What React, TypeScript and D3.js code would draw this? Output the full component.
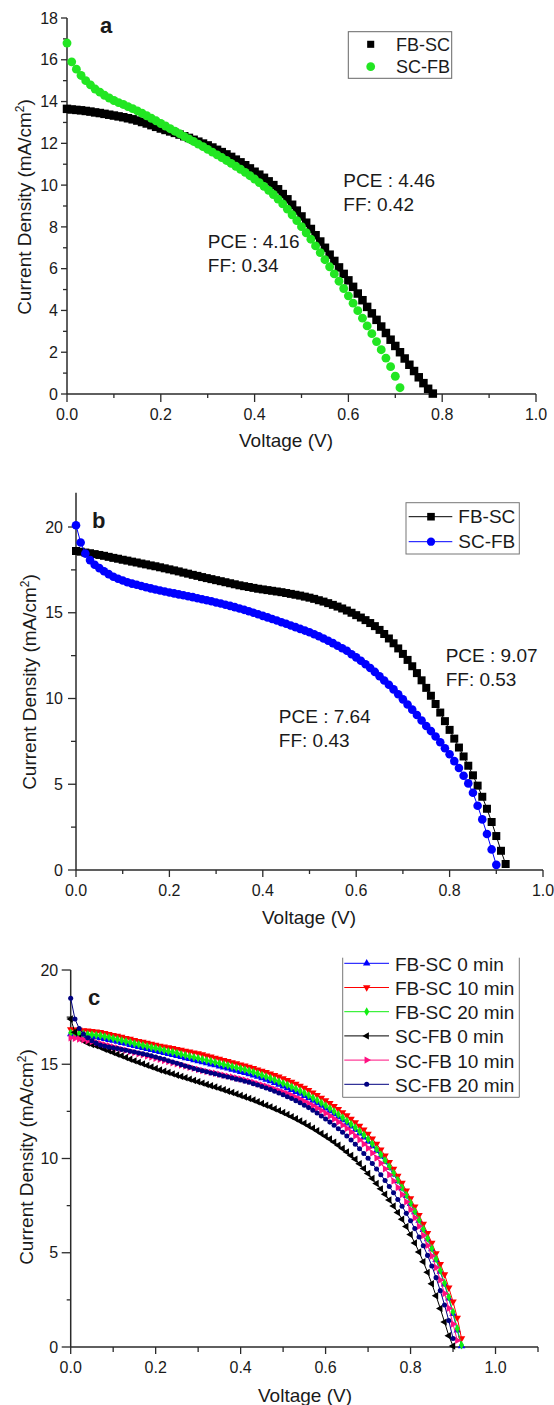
import React from 'react';
import * as d3 from 'd3';

// Voltage sweep step (V) shared by every J–V scan below; index i <-> V = i * SWEEP_STEP
const SWEEP_STEP = 0.01;

// ---------- Panel a (mA/cm2), V = 0 .. 0.78 ----------
const aFbSc = [13.65, 13.62, 13.6, 13.58, 13.55, 13.52, 13.48, 13.45, 13.41, 13.37,
  13.33, 13.29, 13.25, 13.2, 13.15, 13.09, 13.02, 12.95, 12.87, 12.79,
  12.71, 12.64, 12.57, 12.5, 12.42, 12.34, 12.26, 12.17, 12.08, 11.99,
  11.9, 11.8, 11.69, 11.58, 11.47, 11.35, 11.22, 11.09, 10.95, 10.8,
  10.64, 10.5, 10.35, 10.18, 10.0, 9.8, 9.57, 9.32, 9.06, 8.78,
  8.5, 8.2, 7.9, 7.6, 7.3, 7.0, 6.67, 6.37, 6.06, 5.75,
  5.44, 5.13, 4.81, 4.49, 4.17, 3.86, 3.55, 3.23, 2.92, 2.6,
  2.3, 2.0, 1.7, 1.4, 1.1, 0.8, 0.52, 0.25, 0.02];
// V = 0 .. 0.71
const aScFb = [16.8, 15.9, 15.55, 15.25, 15.0, 14.8, 14.6, 14.45, 14.3, 14.17,
  14.05, 13.95, 13.86, 13.76, 13.66, 13.55, 13.44, 13.32, 13.2, 13.08,
  12.95, 12.83, 12.7, 12.58, 12.46, 12.33, 12.21, 12.09, 11.96, 11.84,
  11.71, 11.58, 11.45, 11.32, 11.18, 11.04, 10.9, 10.76, 10.61, 10.45,
  10.29, 10.12, 9.94, 9.75, 9.55, 9.33, 9.1, 8.85, 8.58, 8.3,
  8.01, 7.72, 7.41, 7.09, 6.77, 6.43, 6.09, 5.75, 5.4, 5.05,
  4.7, 4.35, 3.99, 3.63, 3.26, 2.89, 2.51, 2.12, 1.72, 1.31,
  0.85, 0.3];

// ---------- Panel b, V = 0 .. 0.92 ----------
const bFbSc = [18.6, 18.56, 18.51, 18.47, 18.42, 18.37, 18.32, 18.26, 18.2, 18.15,
  18.09, 18.04, 17.98, 17.93, 17.87, 17.82, 17.76, 17.71, 17.65, 17.59,
  17.53, 17.47, 17.41, 17.34, 17.28, 17.21, 17.15, 17.08, 17.02, 16.96,
  16.9, 16.84, 16.78, 16.72, 16.66, 16.6, 16.55, 16.5, 16.45, 16.4,
  16.36, 16.32, 16.28, 16.24, 16.2, 16.15, 16.1, 16.05, 16.0, 15.94,
  15.88, 15.81, 15.73, 15.65, 15.56, 15.46, 15.36, 15.25, 15.13, 15.0,
  14.86, 14.72, 14.57, 14.4, 14.22, 14.0, 13.76, 13.5, 13.22, 12.92,
  12.6, 12.25, 11.88, 11.48, 11.06, 10.62, 10.16, 9.68, 9.18, 8.68,
  8.17, 7.66, 7.14, 6.62, 6.08, 5.52, 4.92, 4.27, 3.57, 2.8,
  1.98, 1.12, 0.35];
// V = 0 .. 0.90
const bScFb = [20.1, 19.1, 18.45, 18.07, 17.8, 17.6, 17.42, 17.25, 17.1, 16.98,
  16.88, 16.78, 16.7, 16.63, 16.56, 16.49, 16.42, 16.36, 16.3, 16.24,
  16.18, 16.13, 16.07, 16.02, 15.96, 15.91, 15.85, 15.79, 15.73, 15.67,
  15.6, 15.54, 15.47, 15.4, 15.33, 15.25, 15.17, 15.09, 15.0, 14.91,
  14.82, 14.73, 14.64, 14.55, 14.45, 14.36, 14.26, 14.16, 14.06, 13.96,
  13.86, 13.75, 13.63, 13.5, 13.37, 13.23, 13.08, 12.93, 12.78, 12.58,
  12.4, 12.2, 12.0, 11.78, 11.55, 11.3, 11.05, 10.8, 10.53, 10.25,
  9.95, 9.65, 9.35, 9.04, 8.72, 8.4, 8.1, 7.78, 7.45, 7.1,
  6.75, 6.35, 5.95, 5.5, 5.05, 4.5, 3.75, 2.95, 2.1, 1.2,
  0.3];

// ---------- Panel c ----------
// FB-SC 0 min, V = 0 .. 0.92
const cFbSc0 = [16.6, 16.57, 16.55, 16.52, 16.5, 16.47, 16.44, 16.4, 16.35, 16.3,
  16.25, 16.2, 16.14, 16.09, 16.03, 15.98, 15.92, 15.87, 15.82, 15.76,
  15.71, 15.66, 15.6, 15.55, 15.5, 15.44, 15.39, 15.33, 15.28, 15.22,
  15.17, 15.11, 15.06, 15.0, 14.95, 14.89, 14.84, 14.78, 14.72, 14.66,
  14.6, 14.54, 14.48, 14.41, 14.34, 14.26, 14.18, 14.1, 14.01, 13.92,
  13.83, 13.74, 13.64, 13.54, 13.44, 13.32, 13.2, 13.07, 12.94, 12.8,
  12.66, 12.51, 12.36, 12.2, 12.04, 11.87, 11.7, 11.52, 11.33, 11.12,
  10.9, 10.66, 10.4, 10.12, 9.82, 9.5, 9.16, 8.8, 8.42, 8.02,
  7.6, 7.16, 6.7, 6.22, 5.72, 5.19, 4.62, 4.0, 3.32, 2.58,
  1.76, 0.88, 0.05];
// FB-SC 10 min, V = 0 .. 0.92
const cFbSc10 = [16.85, 16.84, 16.82, 16.8, 16.78, 16.76, 16.73, 16.7, 16.65, 16.6,
  16.55, 16.5, 16.45, 16.39, 16.34, 16.28, 16.23, 16.18, 16.13, 16.08,
  16.03, 15.98, 15.93, 15.89, 15.85, 15.8, 15.76, 15.71, 15.67, 15.62,
  15.57, 15.52, 15.46, 15.4, 15.34, 15.28, 15.22, 15.16, 15.1, 15.04,
  14.98, 14.92, 14.86, 14.79, 14.72, 14.65, 14.58, 14.5, 14.42, 14.34,
  14.25, 14.16, 14.06, 13.96, 13.85, 13.74, 13.62, 13.49, 13.36, 13.22,
  13.08, 12.93, 12.78, 12.62, 12.45, 12.28, 12.1, 11.92, 11.73, 11.53,
  11.31, 11.05, 10.77, 10.47, 10.15, 9.81, 9.45, 9.08, 8.7, 8.3,
  7.88, 7.45, 7.0, 6.53, 6.04, 5.52, 4.97, 4.4, 3.85, 3.15,
  2.4, 1.55, 0.45];
// FB-SC 20 min, V = 0 .. 0.92
const cFbSc20 = [16.67, 16.65, 16.63, 16.61, 16.59, 16.57, 16.55, 16.52, 16.47, 16.42,
  16.37, 16.32, 16.26, 16.21, 16.16, 16.1, 16.05, 16.0, 15.95, 15.9,
  15.85, 15.8, 15.74, 15.69, 15.64, 15.59, 15.53, 15.48, 15.42, 15.37,
  15.32, 15.27, 15.21, 15.16, 15.1, 15.05, 14.99, 14.94, 14.88, 14.82,
  14.77, 14.71, 14.65, 14.58, 14.5, 14.42, 14.34, 14.26, 14.17, 14.08,
  13.99, 13.9, 13.8, 13.7, 13.59, 13.47, 13.35, 13.22, 13.09, 12.95,
  12.81, 12.66, 12.5, 12.34, 12.17, 12.0, 11.82, 11.64, 11.45, 11.25,
  11.03, 10.78, 10.5, 10.21, 9.9, 9.57, 9.22, 8.85, 8.46, 8.06,
  7.64, 7.2, 6.74, 6.26, 5.76, 5.23, 4.67, 4.06, 3.39, 2.66,
  1.86, 0.98, 0.1];
// SC-FB 0 min, V = 0 .. 0.90
const cScFb0 = [17.4, 16.7, 16.4, 16.25, 16.13, 16.05, 15.98, 15.9, 15.8, 15.71,
  15.62, 15.53, 15.45, 15.36, 15.27, 15.18, 15.1, 15.02, 14.94, 14.86,
  14.78, 14.7, 14.63, 14.56, 14.49, 14.42, 14.35, 14.28, 14.21, 14.14,
  14.07, 14.0, 13.93, 13.86, 13.79, 13.72, 13.65, 13.57, 13.5, 13.42,
  13.34, 13.26, 13.18, 13.1, 13.01, 12.92, 12.83, 12.74, 12.64, 12.54,
  12.44, 12.33, 12.22, 12.11, 11.99, 11.87, 11.74, 11.61, 11.47, 11.33,
  11.18, 11.03, 10.87, 10.7, 10.53, 10.35, 10.16, 9.96, 9.72, 9.47,
  9.2, 8.94, 8.67, 8.39, 8.1, 7.8, 7.48, 7.14, 6.78, 6.39,
  5.97, 5.52, 5.04, 4.52, 3.96, 3.36, 2.72, 2.04, 1.32, 0.6,
  0.05];
// SC-FB 10 min, V = 0 .. 0.91
const cScFb10 = [16.4, 16.38, 16.34, 16.3, 16.25, 16.2, 16.15, 16.1, 16.04, 15.98,
  15.92, 15.86, 15.8, 15.74, 15.68, 15.62, 15.56, 15.5, 15.44, 15.38,
  15.32, 15.26, 15.2, 15.14, 15.08, 15.02, 14.96, 14.9, 14.84, 14.78,
  14.72, 14.67, 14.62, 14.57, 14.52, 14.47, 14.42, 14.37, 14.32, 14.27,
  14.22, 14.16, 14.1, 14.04, 13.97, 13.9, 13.83, 13.76, 13.68, 13.6,
  13.52, 13.43, 13.34, 13.24, 13.14, 13.03, 12.92, 12.8, 12.67, 12.54,
  12.4, 12.25, 12.1, 11.94, 11.77, 11.59, 11.4, 11.2, 10.99, 10.77,
  10.54, 10.29, 10.03, 9.75, 9.45, 9.14, 8.81, 8.46, 8.09, 7.7,
  7.29, 6.86, 6.4, 5.91, 5.39, 4.83, 4.22, 3.56, 2.84, 2.06,
  1.22, 0.35];
// SC-FB 20 min, V = 0 .. 0.90
const cScFb20 = [18.5, 17.4, 16.9, 16.6, 16.4, 16.25, 16.12, 16.02, 15.97, 15.92,
  15.88, 15.83, 15.78, 15.74, 15.69, 15.65, 15.6, 15.55, 15.5, 15.45,
  15.39, 15.32, 15.26, 15.19, 15.12, 15.05, 14.98, 14.91, 14.84, 14.77,
  14.71, 14.65, 14.6, 14.54, 14.49, 14.43, 14.38, 14.32, 14.27, 14.21,
  14.16, 14.1, 14.04, 13.97, 13.9, 13.82, 13.74, 13.66, 13.57, 13.48,
  13.38, 13.28, 13.18, 13.07, 12.96, 12.83, 12.7, 12.56, 12.41, 12.26,
  12.1, 11.93, 11.76, 11.58, 11.39, 11.19, 10.98, 10.76, 10.52, 10.27,
  10.01, 9.73, 9.44, 9.14, 8.83, 8.51, 8.18, 7.83, 7.47, 7.09,
  6.7, 6.28, 5.84, 5.37, 4.86, 4.3, 3.68, 2.99, 2.23, 1.4,
  0.45];

// ---------- ticks & labels ----------
const xMajorAB = [0, 0.2, 0.4, 0.6, 0.8, 1.0];
const xMinorAB = [0.1, 0.3, 0.5, 0.7, 0.9];
const xMajorC = [0, 0.2, 0.4, 0.6, 0.8, 1.0];
const xMinorC = [0.1, 0.3, 0.5, 0.7, 0.9, 1.1];
const yMajorA = [0, 2, 4, 6, 8, 10, 12, 14, 16, 18];
const yMinorA = [1, 3, 5, 7, 9, 11, 13, 15, 17];
const yMajorB = [0, 5, 10, 15, 20];
const yMinorB = [2.5, 7.5, 12.5, 17.5];
const yMajorC = [0, 5, 10, 15, 20];
const yMinorC = [2.5, 7.5, 12.5, 17.5];

const legendA = ['FB-SC', 'SC-FB'];
const legendB = ['FB-SC', 'SC-FB'];
const legendC = ['FB-SC 0 min', 'FB-SC 10 min', 'FB-SC 20 min', 'SC-FB 0 min', 'SC-FB 10 min', 'SC-FB 20 min'];
const notesA = [['PCE : 4.46', 'FF: 0.42'], ['PCE : 4.16', 'FF: 0.34']];
const notesB = [['PCE : 9.07', 'FF: 0.53'], ['PCE : 7.64', 'FF: 0.43']];

const FONT = "'Liberation Sans', Arial, Helvetica, sans-serif";
const AX = '#2a2a2a';
const TXT = '#1a1a1a';

const SYM: Record<string, d3.SymbolType> = {
  square: d3.symbolSquare,
  circle: d3.symbolCircle,
  triangle: d3.symbolTriangle,
  diamond: d3.symbolDiamond,
};

type Series = { values: number[]; color: string; shape: string; size: number; rot?: number; line?: boolean };

function toPoints(values: number[]) {
  return values.map((j, i) => ({ v: i * SWEEP_STEP, j }));
}

function Marker({ shape, size, rot, x, y, fill }: any) {
  const d = d3.symbol(SYM[shape], size)() as string;
  return <path d={d} transform={`translate(${x},${y}) rotate(${rot || 0})`} fill={fill} />;
}

function SeriesMarks({ s, x, y }: { s: Series; x: any; y: any }) {
  const pts = toPoints(s.values);
  const line = d3.line<{ v: number; j: number }>().x(p => x(p.v)).y(p => y(p.j));
  return (
    <g>
      {s.line && <path d={line(pts) as string} fill="none" stroke={s.color} strokeWidth={1} />}
      {pts.map((p, i) => (
        <Marker key={i} shape={s.shape} size={s.size} rot={s.rot} x={x(p.v)} y={y(p.j)} fill={s.color} />
      ))}
    </g>
  );
}

function Axes(props: any) {
  const { x, y, xMajor, xMinor, yMajor, yMinor, xTick, xMinTick, yTick, yMinTick, yLabelGap } = props;
  const [x0, x1] = x.range();
  const [y0, y1] = y.range();
  const fx = d3.format('.1f');
  return (
    <g fontFamily={FONT} fill={TXT}>
      <line x1={x0} x2={x1} y1={y0} y2={y0} stroke={AX} strokeWidth={1.5} />
      <line x1={x0} x2={x0} y1={y0} y2={y1} stroke={AX} strokeWidth={1.5} />
      {xMajor.map((v: number) => (
        <g key={'xm' + v}>
          <line x1={x(v)} x2={x(v)} y1={y0} y2={y0 + xTick} stroke={AX} strokeWidth={1.3} />
          <text x={x(v)} y={y0 + 26} fontSize={16} textAnchor="middle">{fx(v)}</text>
        </g>
      ))}
      {xMinor.map((v: number) => (
        <line key={'xn' + v} x1={x(v)} x2={x(v)} y1={y0} y2={y0 + xMinTick} stroke={AX} strokeWidth={1.3} />
      ))}
      {yMajor.map((v: number) => (
        <g key={'ym' + v}>
          <line x1={x0 - yTick} x2={x0} y1={y(v)} y2={y(v)} stroke={AX} strokeWidth={1.3} />
          <text x={x0 - yLabelGap} y={y(v) + 5.7} fontSize={16} textAnchor="end">{v}</text>
        </g>
      ))}
      {yMinor.map((v: number) => (
        <line key={'yn' + v} x1={x0 - yMinTick} x2={x0} y1={y(v)} y2={y(v)} stroke={AX} strokeWidth={1.3} />
      ))}
    </g>
  );
}

function YTitle({ x, y }: { x: number; y: number }) {
  return (
    <text transform={`translate(${x},${y}) rotate(-90)`} textAnchor="middle" fontFamily={FONT} fontSize={19} fill={TXT}>
      Current Density (mA/cm<tspan dy={-7} fontSize={12}>2</tspan><tspan dy={7}>)</tspan>
    </text>
  );
}

function XTitle({ x, y }: { x: number; y: number }) {
  return (
    <text x={x} y={y} textAnchor="middle" fontFamily={FONT} fontSize={19} fill={TXT}>Voltage (V)</text>
  );
}

function Note({ x, y, lines }: { x: number; y: number; lines: string[] }) {
  return (
    <g fontFamily={FONT} fontSize={19} fill={TXT}>
      {lines.map((t, i) => (
        <text key={i} x={x} y={y + i * 24}>{t}</text>
      ))}
    </g>
  );
}

export default function App() {
  // panel a
  const xa = d3.scaleLinear().domain([0, 1.0]).range([67, 536]);
  const ya = d3.scaleLinear().domain([0, 18]).range([394, 18]);
  // panel b
  const xb = d3.scaleLinear().domain([0, 1.0]).range([76, 543]);
  const yb = d3.scaleLinear().domain([0, 22]).range([870, 492.7]);
  // panel c
  const xc = d3.scaleLinear().domain([0, 1.1]).range([70.7, 538]);
  const yc = d3.scaleLinear().domain([0, 20]).range([1347, 970]);

  const seriesA: Series[] = [
    { values: aFbSc, color: '#000000', shape: 'square', size: 72 },
    { values: aScFb, color: '#22e622', shape: 'circle', size: 62 },
  ];
  const seriesB: Series[] = [
    { values: bFbSc, color: '#000000', shape: 'square', size: 64, line: true },
    { values: bScFb, color: '#0000ff', shape: 'circle', size: 58, line: true },
  ];
  const seriesC: Series[] = [
    { values: cFbSc0, color: '#0000ff', shape: 'triangle', size: 24, rot: 0, line: true },
    { values: cFbSc10, color: '#ff0000', shape: 'triangle', size: 24, rot: 180, line: true },
    { values: cFbSc20, color: '#11ee11', shape: 'diamond', size: 22, line: true },
    { values: cScFb0, color: '#000000', shape: 'triangle', size: 24, rot: -90, line: true },
    { values: cScFb10, color: '#ff1080', shape: 'triangle', size: 24, rot: 90, line: true },
    { values: cScFb20, color: '#000080', shape: 'circle', size: 20, line: true },
  ];

  return (
    <svg width={554} height={1405} style={{ position: 'absolute', left: 0, top: 0, background: '#fff' }}>
      <rect x={0} y={0} width={554} height={1405} fill="#ffffff" />

      {/* ---------- Panel a ---------- */}
      <Axes x={xa} y={ya} xMajor={xMajorAB} xMinor={xMinorAB} yMajor={yMajorA} yMinor={yMinorA}
        xTick={8} xMinTick={4} yTick={6} yMinTick={4} yLabelGap={9} />
      {seriesA.map((s, i) => <SeriesMarks key={i} s={s} x={xa} y={ya} />)}
      <text x={100} y={33} fontFamily={FONT} fontSize={22} fontWeight="bold" fill={TXT}>a</text>
      <g>
        <rect x={348.3} y={31.7} width={103.4} height={46.6} fill="#fff" stroke="#666" strokeWidth={1} />
        <Marker shape="square" size={50} x={370.7} y={44.3} fill="#000" />
        <Marker shape="circle" size={60} x={370.7} y={66.7} fill="#22e622" />
        {legendA.map((t, i) => (
          <text key={t} x={396} y={51 + i * 22} fontFamily={FONT} fontSize={18} fill={TXT}>{t}</text>
        ))}
      </g>
      <Note x={343.3} y={187} lines={notesA[0]} />
      <Note x={207.8} y={248} lines={notesA[1]} />
      <YTitle x={31} y={207} />
      <XTitle x={286} y={447} />

      {/* ---------- Panel b ---------- */}
      <Axes x={xb} y={yb} xMajor={xMajorAB} xMinor={xMinorAB} yMajor={yMajorB} yMinor={yMinorB}
        xTick={7} xMinTick={4} yTick={8} yMinTick={5} yLabelGap={13} />
      {seriesB.map((s, i) => <SeriesMarks key={i} s={s} x={xb} y={yb} />)}
      <text x={92} y={528} fontFamily={FONT} fontSize={22} fontWeight="bold" fill={TXT}>b</text>
      <g>
        <rect x={406} y={502.7} width={113.3} height={51.3} fill="#fff" stroke="#777" strokeWidth={1} />
        <line x1={408.7} x2={452.3} y1={516.7} y2={516.7} stroke="#000" strokeWidth={1} />
        <Marker shape="square" size={58} x={431} y={516.7} fill="#000" />
        <line x1={408.7} x2={452.3} y1={541.7} y2={541.7} stroke="#0000ff" strokeWidth={1} />
        <Marker shape="circle" size={54} x={431} y={541.7} fill="#0000ff" />
        {legendB.map((t, i) => (
          <text key={t} x={458.3} y={523 + i * 25} fontFamily={FONT} fontSize={19} fill={TXT}>{t}</text>
        ))}
      </g>
      <Note x={445.7} y={662} lines={notesB[0]} />
      <Note x={278.8} y={723} lines={notesB[1]} />
      <YTitle x={36} y={682} />
      <XTitle x={309} y={924} />

      {/* ---------- Panel c ---------- */}
      <Axes x={xc} y={yc} xMajor={xMajorC} xMinor={xMinorC} yMajor={yMajorC} yMinor={yMinorC}
        xTick={7} xMinTick={5} yTick={9} yMinTick={4} yLabelGap={12.5} />
      {seriesC.map((s, i) => <SeriesMarks key={i} s={s} x={xc} y={yc} />)}
      <text x={88} y={1005} fontFamily={FONT} fontSize={22} fontWeight="bold" fill={TXT}>c</text>
      <g>
        <path d="M342.7,957.7 V1097.3 H519.3 V957.7" fill="none" stroke="#777" strokeWidth={1} />
        {legendC.map((t, i) => {
          const s = seriesC[i];
          const cy = 963.3 + i * 24.2;
          return (
            <g key={t}>
              <line x1={344.3} x2={389} y1={cy} y2={cy} stroke={s.color} strokeWidth={1} />
              <Marker shape={s.shape} size={s.size} rot={s.rot} x={366.7} y={cy} fill={s.color} />
              <text x={395} y={cy + 7.5} fontFamily={FONT} fontSize={19} fill={TXT}>{t}</text>
            </g>
          );
        })}
      </g>
      <YTitle x={33} y={1157} />
      <XTitle x={305} y={1402} />
    </svg>
  );
}
